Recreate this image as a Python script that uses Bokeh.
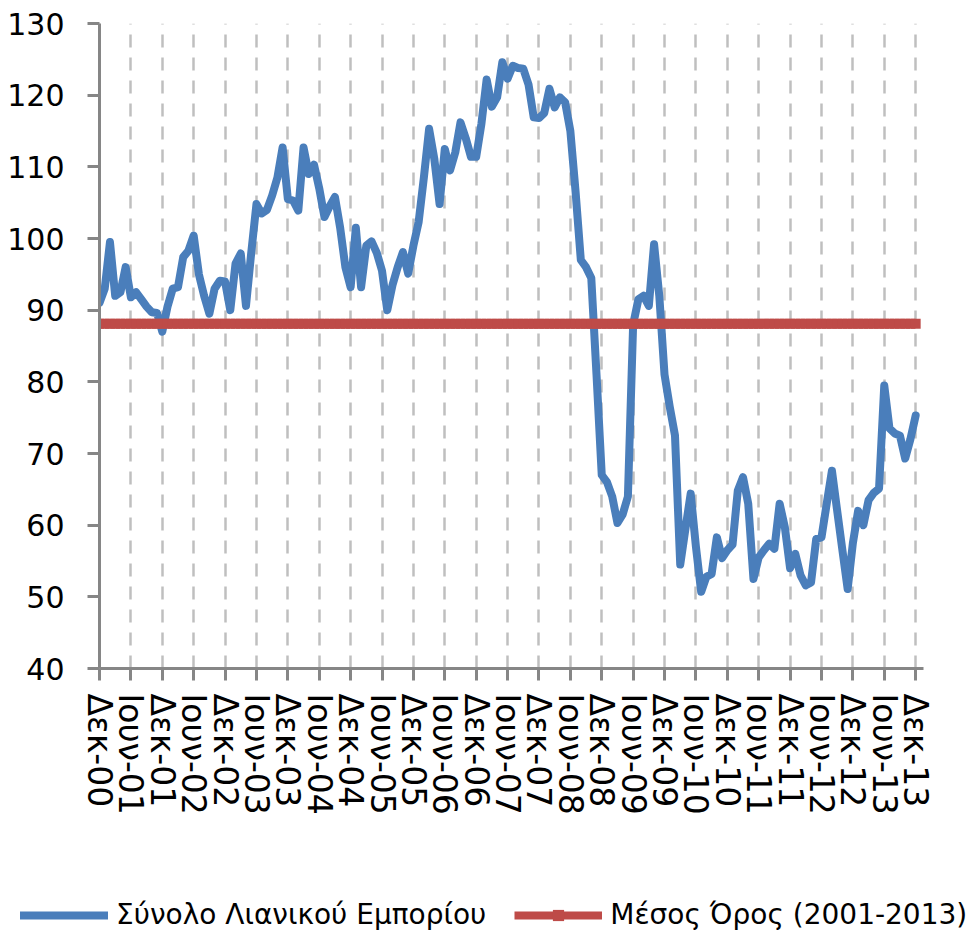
from bokeh.plotting import figure
from bokeh.models import FixedTicker, Legend, LegendItem, Range1d
from bokeh.core.properties import value
from bokeh.embed import file_html
from bokeh.resources import INLINE

# Tick labels every 6 months, Dec 2000 .. Dec 2013
tick_labels = ["Δεκ-00", "Ιουν-01", "Δεκ-01", "Ιουν-02", "Δεκ-02", "Ιουν-03", "Δεκ-03",
               "Ιουν-04", "Δεκ-04", "Ιουν-05", "Δεκ-05", "Ιουν-06", "Δεκ-06", "Ιουν-07",
               "Δεκ-07", "Ιουν-08", "Δεκ-08", "Ιουν-09", "Δεκ-09", "Ιουν-10", "Δεκ-10",
               "Ιουν-11", "Δεκ-11", "Ιουν-12", "Δεκ-12", "Ιουν-13", "Δεκ-13"]

# Monthly values, Dec 2000 .. Dec 2013
retail = [
    91, 93, 99.5, 92, 92.5, 96, 91.8, 92.5, 91.5, 90.5, 89.7, 89.6,
    87, 90.5, 93, 93.2, 97.4, 98.3, 100.4, 95, 92, 89.5, 93, 94.1,
    94, 90, 96.5, 97.9, 90.6, 98, 104.8, 103.5, 104, 106, 108.5, 112.7,
    105.5, 105.3, 103.9, 112.7, 109, 110.3, 107, 103, 104.5, 105.8, 101.5, 96,
    93.2, 101.5, 93.2, 99, 99.6, 98, 95.5, 90, 93.5, 96, 98.1, 95.1,
    99, 102.3, 108.5, 115.3, 111.1, 104.8, 112.5, 109.5, 112, 116.2, 114, 111.4,
    111.4, 116, 122.2, 118.4, 119.7, 124.6, 122.3, 124.1, 123.8, 123.7, 121.5, 116.9,
    116.8, 117.5, 120.9, 118.3, 119.7, 119, 115, 106.5, 97, 96, 94.5, 81,
    67, 66, 64, 60.3, 61.5, 64, 88, 91.5, 92, 90.6, 99.2, 92,
    81, 76.5, 72.5, 54.5, 59.5, 64.4, 57, 50.7, 52.8, 53.2, 58.3, 55.4,
    56.5, 57.3, 64.8, 66.7, 63, 52.5, 55.5, 56.5, 57.4, 56.7, 63, 59.7,
    54, 56, 53, 51.6, 52, 58.1, 58.3, 63, 67.6, 62, 56.5, 51.1,
    57.5, 62, 60, 63.5, 64.5, 65.1, 79.5, 73.5, 72.8, 72.5, 69.3, 72,
    75.3,
]
mean_level = 88.1  # Μέσος Όρος (2001-2013)

y_ticks = [40, 50, 60, 70, 80, 90, 100, 110, 120, 130]

series_names = ["Σύνολο Λιανικού Εμπορίου", "Μέσος Όρος (2001-2013)"]

months = list(range(len(retail)))
tick_pos = months[::6]
mean_series = [mean_level] * len(retail)

BLUE = "#4a7ebb"
RED = "#be4b48"
AXIS = "#868686"
FONT = "DejaVu Sans"

p = figure(frame_width=824, frame_height=645,
           x_range=Range1d(0, 157.5), y_range=Range1d(40, 130),
           output_backend="svg", toolbar_location=None,
           min_border_left=99, min_border_right=48,
           min_border_top=23, min_border_bottom=217)
p.outline_line_color = None
p.background_fill_color = "white"
p.border_fill_color = "white"

# x axis
p.xaxis.ticker = FixedTicker(ticks=tick_pos)
p.xaxis.major_label_overrides = {t: lab for t, lab in zip(tick_pos, tick_labels)}
p.xaxis.major_label_orientation = "vertical"
p.xaxis.major_label_text_font = FONT
p.xaxis.major_label_text_font_size = "33px"
p.xaxis.major_label_text_color = "black"
p.xaxis.major_label_standoff = 13

# y axis
p.yaxis.ticker = FixedTicker(ticks=y_ticks)
p.yaxis.major_label_text_font = FONT
p.yaxis.major_label_text_font_size = "30px"
p.yaxis.major_label_text_color = "black"
p.yaxis.major_label_standoff = 23

for ax in (p.xaxis, p.yaxis):
    ax.axis_line_color = AXIS
    ax.axis_line_width = 3
    ax.major_tick_line_color = AXIS
    ax.major_tick_line_width = 3
    ax.major_tick_out = 12
    ax.major_tick_in = 0
    ax.minor_tick_line_color = None

p.xgrid.ticker = FixedTicker(ticks=tick_pos[1:])
p.xgrid.grid_line_color = "#bfbfbf"
p.xgrid.grid_line_width = 2.5
p.xgrid.grid_line_dash = "13 10"
p.ygrid.grid_line_color = None

blue = p.line(months, retail, line_color=BLUE, line_width=8,
              line_join="round", line_cap="round")
red_line = p.line(months, mean_series, line_color=RED, line_width=8)
red_sq = p.scatter(months, mean_series, marker="square", size=10,
                   fill_color=RED, line_color=None)

# Legend strip below the chart (separate root figure, glyph styles matching the series)
lg = figure(width=971, height=54, x_range=Range1d(0, 1), y_range=Range1d(0, 1),
            output_backend="svg", toolbar_location=None,
            min_border_left=0, min_border_right=0, min_border_top=0, min_border_bottom=0)
lg.axis.visible = False
lg.grid.visible = False
lg.outline_line_color = None
lg.border_fill_color = "white"
lb = lg.line([-5, -4], [-5, -5], line_color=BLUE, line_width=8, line_cap="round")
lr = lg.line([-5, -4], [-5, -5], line_color=RED, line_width=8)
ls = lg.scatter([-5], [-5], marker="square", size=12, fill_color=RED, line_color=None)

legend = Legend(items=[
    LegendItem(label=value(series_names[0]), renderers=[lb]),
    LegendItem(label=value(series_names[1]), renderers=[lr, ls]),
], location=(20, 8), orientation="horizontal")
legend.label_text_font = FONT
legend.label_text_font_size = "28px"
legend.label_text_color = "black"
legend.glyph_width = 88
legend.glyph_height = 28
legend.label_height = 28
legend.label_standoff = 8
legend.spacing = 28
legend.padding = 0
legend.margin = 0
legend.border_line_color = None
legend.background_fill_alpha = 0
lg.add_layout(legend)

open("out.html", "w").write(file_html([p, lg], INLINE))
